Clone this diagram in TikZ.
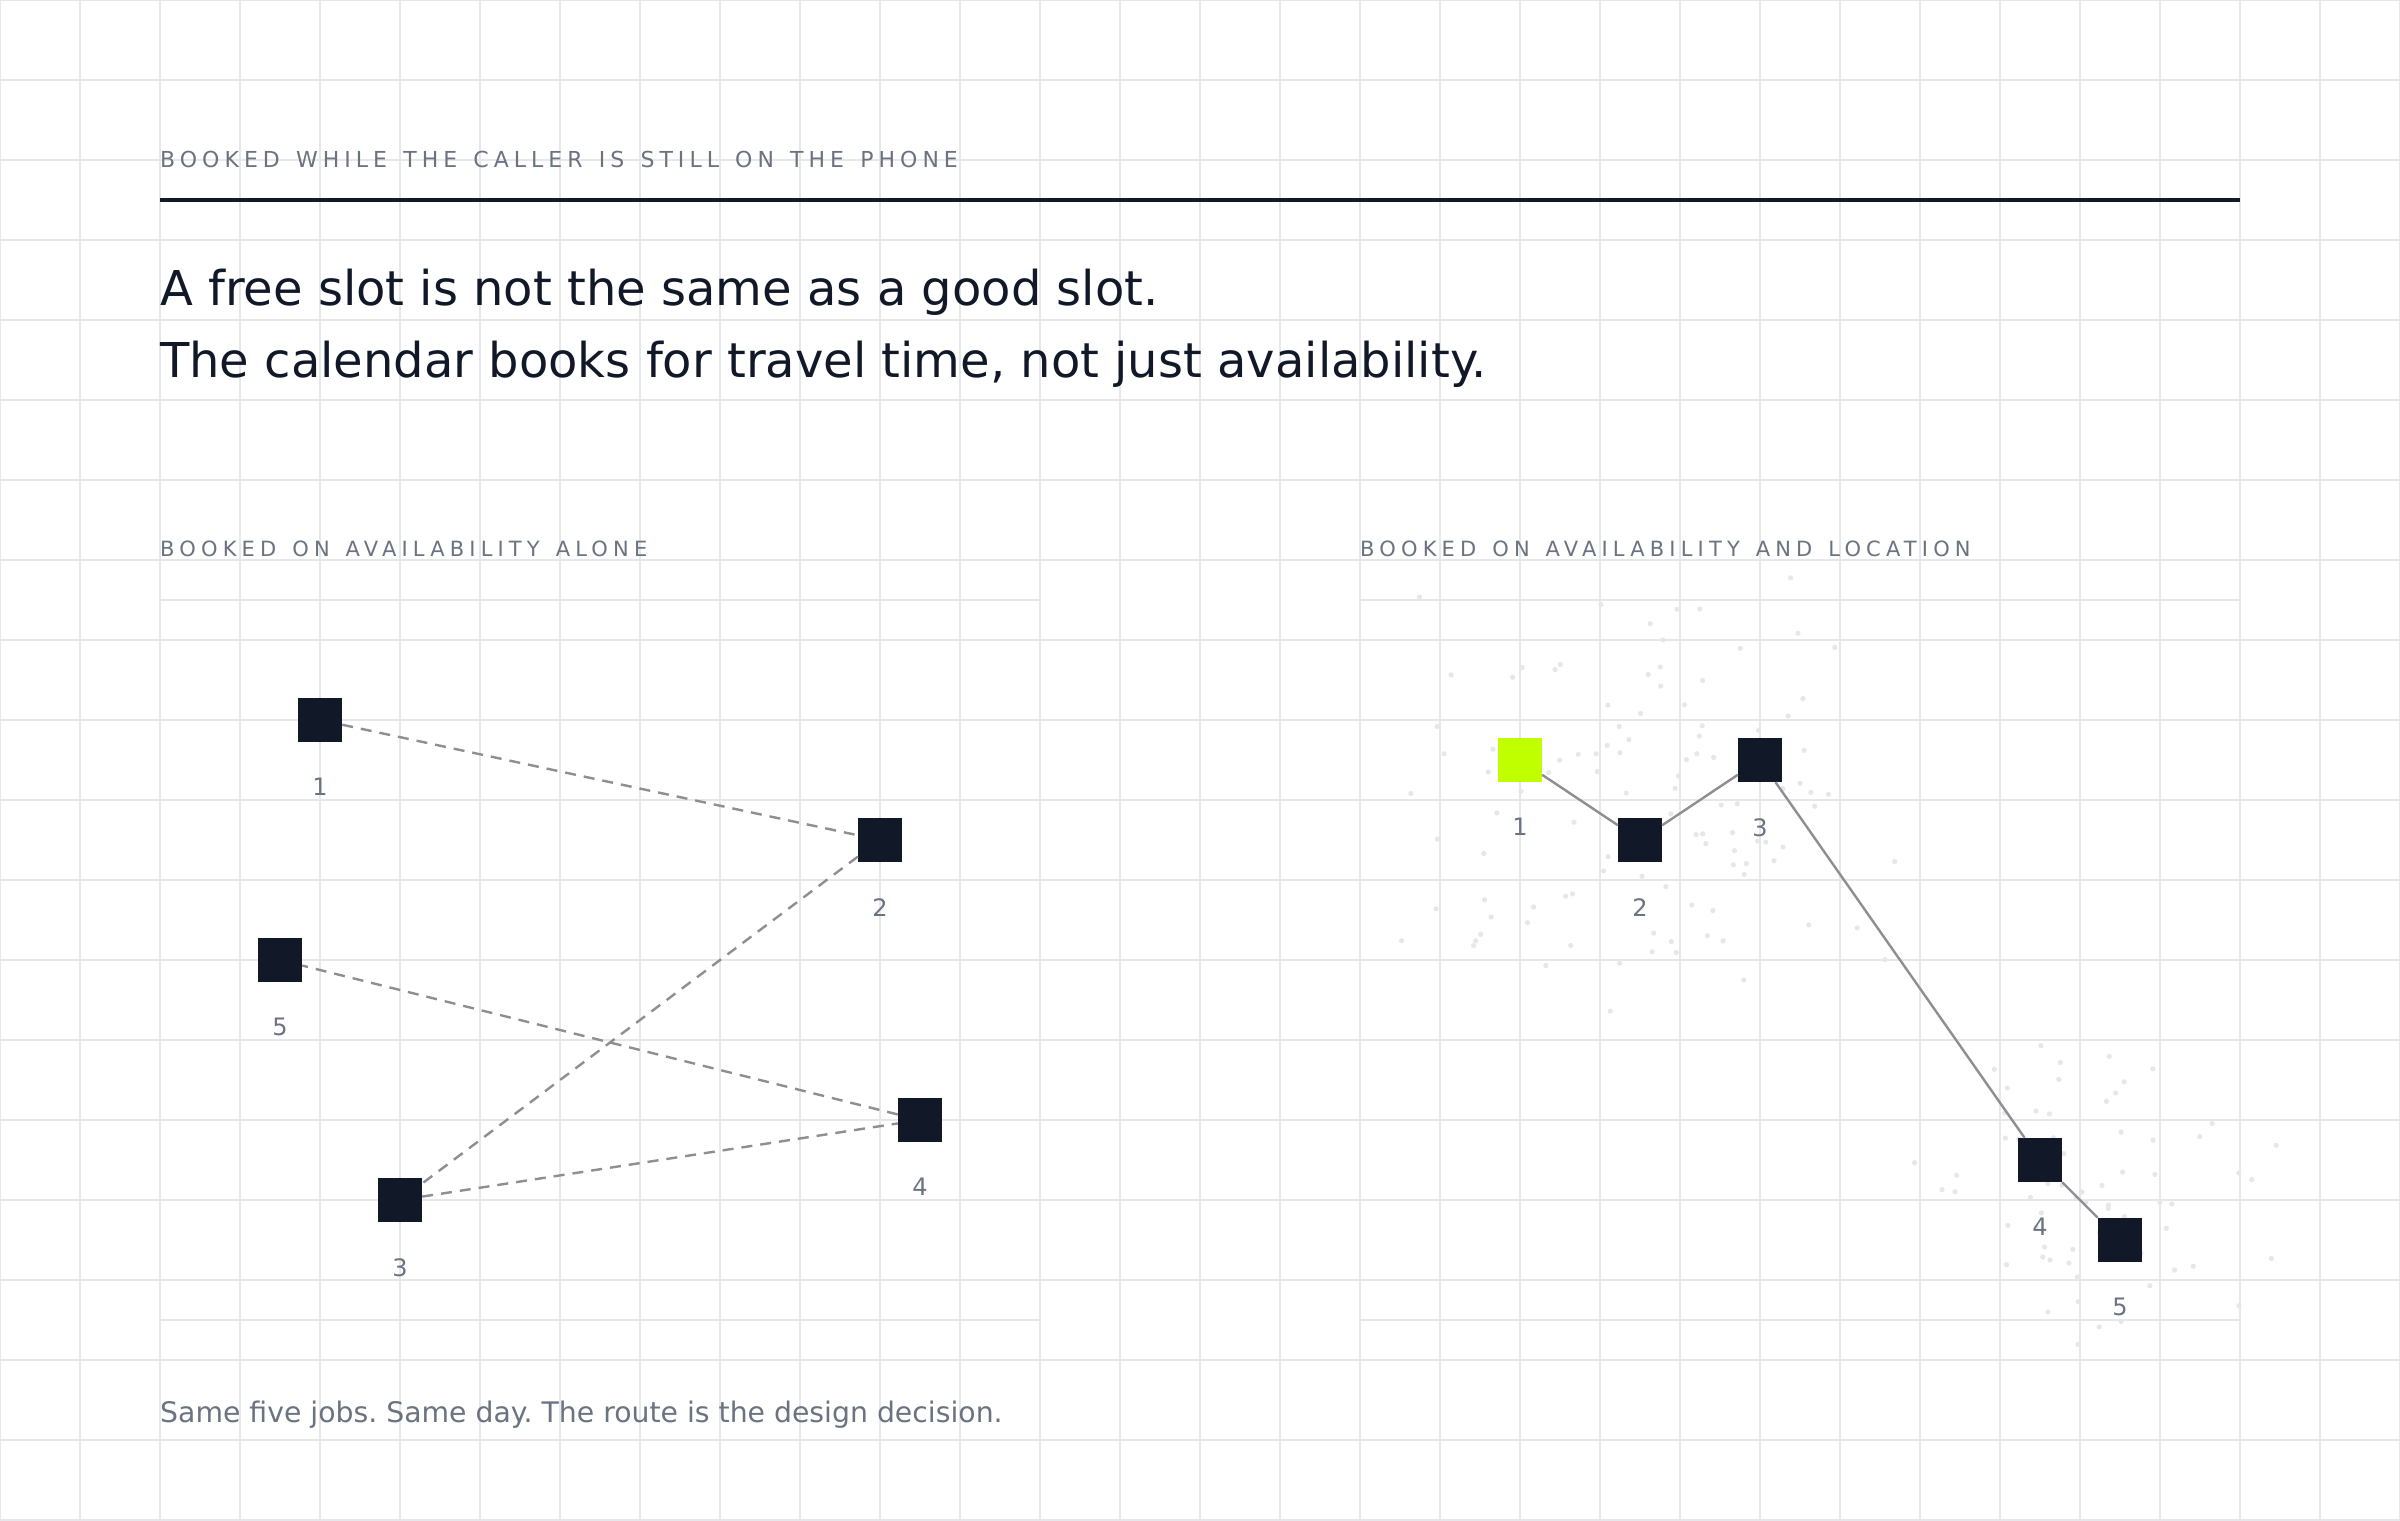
\documentclass[tikz,border=0pt]{standalone}
\usepackage{fontspec}
\setmainfont{DejaVu Sans}
\newfontfamily\capsfont[LetterSpace=22.8,WordSpace=1.35]{DejaVu Sans}
\newfontfamily\panelfont[LetterSpace=24.6,WordSpace=1.35]{DejaVu Sans}
\usetikzlibrary{positioning}

\definecolor{gridline}{HTML}{E5E7EB}
\definecolor{speck}{HTML}{E6E7EA}
\definecolor{ink}{HTML}{111827}
\definecolor{muted}{HTML}{6B7280}
\definecolor{route}{HTML}{8E8E93}
\definecolor{lime}{HTML}{BFFF00}
\def \gridcolor {gridline}
\def \labelgap {36pt}

\tikzset{
  gridrule/.style={\gridcolor, line width=2pt},
  job/.style={fill=ink, minimum size=44pt, inner sep=0pt},
  firstjob/.style={job, fill=lime},
  joblabel/.style={font=\fontsize{24}{24}\selectfont, text=muted, inner sep=0pt},
  kicker/.style={font=\capsfont\fontsize{22}{26}\selectfont, text=muted, anchor=base west, inner sep=0pt},
  panelhead/.style={kicker, font=\panelfont\fontsize{21}{26}\selectfont},
  headline/.style={font=\fontsize{48}{72}\selectfont, text=ink, anchor=base west, inner sep=0pt},
  dashedroute/.style={route, line width=2.4pt, dash pattern=on 11pt off 8pt},
  solidroute/.style={route, line width=2.4pt},
  scatterdot/.style={fill=speck}
}

\begin{document}
\frenchspacing
\begin{tikzpicture}[x=1pt, y=-1pt]
\useasboundingbox (0,0) rectangle (2400,1520);
\fill[white] (0,0) rectangle (2400,1520);

% Draw the background grid
\foreach \x in {0,80,...,2400}
  \draw[gridrule] (\x,0) -- (\x,1520);
\foreach \y in {0,80,...,1520}
  \draw[gridrule] (0,\y) -- (2400,\y);

% Draw the scatter round the two clusters
\pgfmathsetseed{11}
\foreach \i in {1,...,110}
{
  \pgfmathsetmacro\dotx{1640+(rand+rand)*140}
  \pgfmathsetmacro\doty{790+(rand+rand)*130}
  \fill[scatterdot] (\dotx,\doty) circle (2.6pt);
}
\foreach \i in {1,...,70}
{
  \pgfmathsetmacro\dotx{2085+(rand+rand)*105}
  \pgfmathsetmacro\doty{1200+(rand+rand)*90}
  \fill[scatterdot] (\dotx,\doty) circle (2.6pt);
}

% Header
\node[kicker] (kicker) at (160,167) {BOOKED WHILE THE CALLER IS STILL ON THE PHONE};
\draw[ink, line width=4pt] (160,200) -- (2240,200);
\node[headline] (title1) at (160,305) {A free slot is not the same as a good slot.};
\node[headline] (title2) at (160,377) {The calendar books for travel time, not just availability.};

% Draw the panel rules
\node[panelhead] (lefthead) at (160,556) {BOOKED ON AVAILABILITY ALONE};
\node[panelhead] (righthead) at (1360,556) {BOOKED ON AVAILABILITY AND LOCATION};
\draw[gridrule] (160,600) -- (1040,600);
\draw[gridrule] (160,1320) -- (1040,1320);
\draw[gridrule] (1360,600) -- (2240,600);
\draw[gridrule] (1360,1320) -- (2240,1320);

% Left panel: jobs in booking order
\node[job] (a1) at (320,720) {};
\node[job] (a2) at (880,840) {};
\node[job] (a3) at (400,1200) {};
\node[job] (a4) at (920,1120) {};
\node[job] (a5) at (280,960) {};
\foreach \n in {1,...,5}
  \node[joblabel, below=\labelgap of a\n] (a\n l) {\n};
\draw[dashedroute] (a1) -- (a2) -- (a3) -- (a4) -- (a5);

% Right panel: jobs in route order
\node[firstjob] (b1) at (1520,760) {};
\node[job] (b2) at (1640,840) {};
\node[job] (b3) at (1760,760) {};
\node[job] (b4) at (2040,1160) {};
\node[job] (b5) at (2120,1240) {};
\foreach \n in {1,...,5}
  \node[joblabel, below=\labelgap of b\n] (b\n l) {\n};
\draw[solidroute] (b1) -- (b2) -- (b3) -- (b4) -- (b5);

% Footer
\node[font=\fontsize{28.3}{34}\selectfont, text=muted, anchor=base west, inner sep=0pt] (footer) at (160,1422) {Same five jobs. Same day. The route is the design decision.};
\end{tikzpicture}
\end{document}
